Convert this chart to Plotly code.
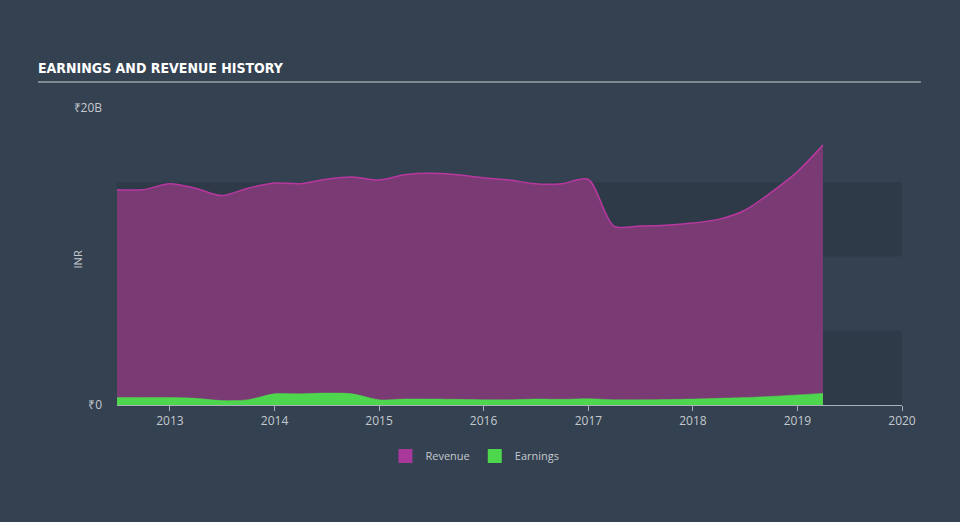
import plotly.graph_objects as go

dates = ["2012-06-30","2012-09-30","2012-12-31","2013-03-31","2013-06-30","2013-09-30","2013-12-31",
         "2014-03-31","2014-06-30","2014-09-30","2014-12-31","2015-03-31","2015-06-30","2015-09-30",
         "2015-12-31","2016-03-31","2016-06-30","2016-09-30","2016-12-31","2017-03-31","2017-06-30",
         "2017-09-30","2017-12-31","2018-03-31","2018-06-30","2018-09-30","2018-12-31","2019-03-31"]
revenue = [14.5, 14.5, 14.9, 14.6, 14.1, 14.6, 14.95, 14.9, 15.2, 15.35, 15.15, 15.5, 15.6, 15.5,
           15.3, 15.15, 14.9, 14.9, 15.2, 12.05, 12.05, 12.1, 12.25, 12.5, 13.1, 14.3, 15.7, 17.5]
earnings = [0.5, 0.5, 0.5, 0.45, 0.3, 0.35, 0.75, 0.75, 0.8, 0.75, 0.35, 0.4, 0.4, 0.38,
            0.35, 0.35, 0.4, 0.38, 0.42, 0.35, 0.35, 0.37, 0.4, 0.45, 0.5, 0.58, 0.68, 0.78]
year_ticks = ["2013-01-01","2014-01-01","2015-01-01","2016-01-01","2017-01-01","2018-01-01","2019-01-01","2020-01-01"]
year_labels = ["2013","2014","2015","2016","2017","2018","2019","2020"]

bg = "#344150"
band = "#2e3a48"
txt = "#c4c9cf"
axis_c = "#a9b0b8"
rev_fill = "#7a3a74"
rev_line = "#b8389f"
rev_swatch = "#a8389a"
earn_c = "#4fd64f"

fig = go.Figure()
fig.add_trace(go.Scatter(x=dates, y=revenue, name="Revenue", mode="lines", showlegend=False,
                         line=dict(color=rev_line, width=1.5, shape="spline", smoothing=0.8),
                         fill="tozeroy", fillcolor=rev_fill))
fig.add_trace(go.Scatter(x=dates, y=earnings, name="Earnings", mode="lines", showlegend=False,
                         line=dict(color=earn_c, width=0.5, shape="spline", smoothing=0.8),
                         fill="tozeroy", fillcolor=earn_c))
# legend entries with square swatches
fig.add_trace(go.Scatter(x=[None], y=[None], name="Revenue", mode="markers",
                         marker=dict(symbol="square", size=14, color=rev_swatch)))
fig.add_trace(go.Scatter(x=[None], y=[None], name="Earnings", mode="markers",
                         marker=dict(symbol="square", size=14, color=earn_c)))

for y0, y1 in [(0, 5), (10, 15)]:
    fig.add_shape(type="rect", xref="paper", yref="y", x0=0, x1=1, y0=y0, y1=y1,
                  fillcolor=band, line=dict(width=0), layer="below")

fig.add_shape(type="line", xref="paper", yref="paper", x0=-0.1006, x1=1.024, y0=1.0875, y1=1.0875,
              line=dict(color="#9aa3ac", width=1.5))

fig.add_annotation(text="INR", xref="paper", yref="paper", x=(77-117)/785, y=0.49,
                   textangle=-90, showarrow=False, xanchor="center", yanchor="middle",
                   font=dict(size=11, color=txt))

fig.update_layout(
    width=960, height=522,
    paper_bgcolor=bg, plot_bgcolor=bg,
    margin=dict(l=117, r=58, t=108, b=117),
    font=dict(family="Open Sans", color=txt, size=11),
    title=dict(text="<b>EARNINGS AND REVENUE HISTORY</b>", x=38/960, xref="container", xanchor="left",
               y=1-68/522, yref="container", yanchor="middle",
               font=dict(family="DejaVu Sans Condensed, Roboto Condensed, sans-serif", size=14, color="#ffffff")),
    showlegend=True,
    legend=dict(orientation="h", x=0.456, xanchor="center", y=-0.172, yanchor="middle",
                font=dict(size=11, color=txt), bgcolor="rgba(0,0,0,0)", itemwidth=30),
    xaxis=dict(range=["2012-06-30", "2020-01-01"], tickvals=year_ticks, ticktext=year_labels,
               showgrid=False, zeroline=False, showline=True, linecolor=axis_c, linewidth=1,
               ticks="outside", ticklen=5, tickcolor=axis_c, tickfont=dict(size=12, color=txt)),
    yaxis=dict(range=[0, 20], tickvals=[0, 20], ticktext=["₹0", "₹20B"], showgrid=False,
               zeroline=False, showline=False, ticks="", ticklabelstandoff=14,
               tickfont=dict(size=12, color=txt)),
)

fig.write_html("out.html")
